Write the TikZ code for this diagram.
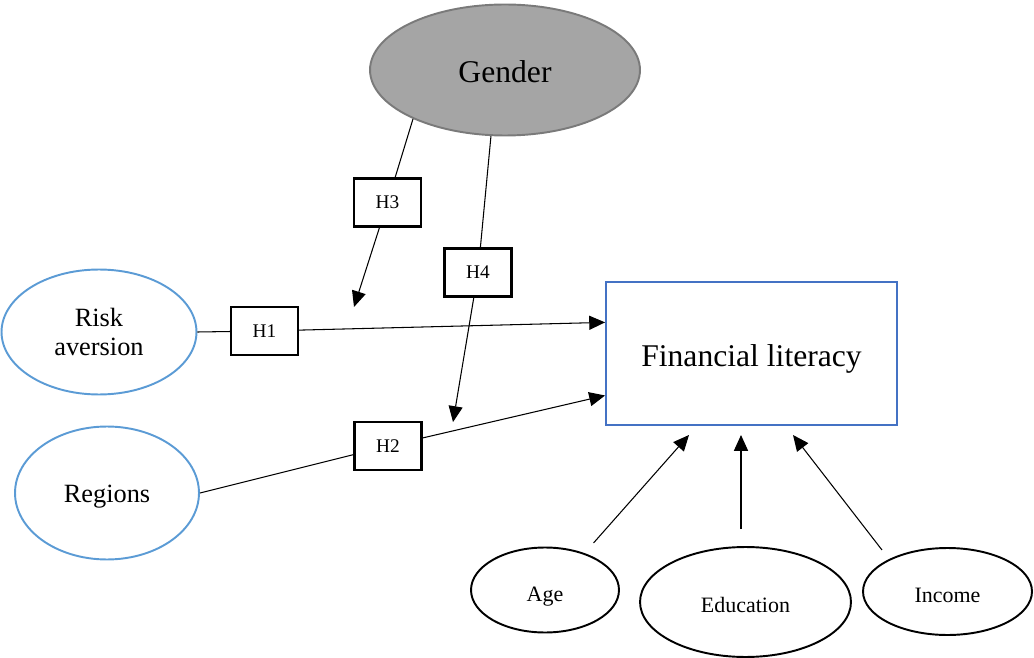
\documentclass[tikz,border=0pt]{standalone}
\usepackage{fontspec}
\setmainfont{Liberation Serif}
\usetikzlibrary{shapes.geometric,arrows.meta}
\tikzset {>={Triangle[length=9pt,width=8pt]}}
\definecolor{ovalblue}{HTML}{5B9BD5}
\definecolor{boxblue}{HTML}{4472C4}
\definecolor{gendergray}{HTML}{A5A5A5}
\definecolor{genderline}{HTML}{7A7A7A}
\newcommand{\lowtext}[2]{\raisebox{-#1}[\height][\depth]{#2}}
\tikzset{
  oval/.style={ellipse,draw,line width=1.1pt,inner sep=0pt},
  hyp/.style={rectangle,draw,line width=1.3pt,minimum width=1.34cm,minimum height=0.96cm,font=\fontsize{11}{13}\selectfont},
  link/.style={line width=0.6pt}
}

\begin{document}
\begin{tikzpicture}[x=0.02cm,y=-0.02cm]
\useasboundingbox (0,0) rectangle (1034,658);
\node[oval,fill=gendergray,draw=genderline,minimum width=5.4cm,minimum height=2.62cm,font=\fontsize{18}{21}\selectfont] (gender) at (505,70) {\lowtext{1pt}{Gender}};
\node[oval,draw=ovalblue,minimum width=3.9cm,minimum height=2.5cm,align=center,font=\fontsize{15}{17}\selectfont] (risk) at (99,332) {Risk\\aversion};
\node[oval,draw=ovalblue,minimum width=3.68cm,minimum height=2.66cm,font=\fontsize{15}{17}\selectfont] (regions) at (107,493) {\lowtext{2pt}{Regions}};
\node[rectangle,draw=boxblue,line width=1.1pt,minimum width=5.82cm,minimum height=2.86cm,font=\fontsize{18}{21}\selectfont] (fin) at (751.5,353.5) {\lowtext{3pt}{Financial literacy}};
\node[oval,minimum width=2.96cm,minimum height=1.7cm,font=\fontsize{12.5}{15}\selectfont] (age) at (545,590) {\lowtext{3.5pt}{Age}};
\node[oval,minimum width=4.22cm,minimum height=2.2cm,font=\fontsize{12.5}{15}\selectfont] (edu) at (745.5,602) {\lowtext{1.5pt}{Education}};
\node[oval,minimum width=3.38cm,minimum height=1.74cm,font=\fontsize{12.5}{15}\selectfont] (income) at (947.5,591.5) {\lowtext{2pt}{Income}};
\node[hyp] (H1) at (264.5,331) {H1};
\node[hyp] (H2) at (388,446) {H2};
\node[hyp] (H3) at (387.5,202.5) {H3};
\node[hyp] (H4) at (478,272.5) {H4};
\coordinate (h3tip) at (354,307);
\coordinate (h4tip) at (453,422);
\coordinate (agetip) at (689,435);
\coordinate (edutip) at (741,435);
\coordinate (inctip) at (793,435);
% main paths
\draw[link] (risk.east) -- (H1);
\draw[link,->] (H1) -- (fin.168);
\draw[link] (regions.east) -- (H2);
\draw[link,->] (H2) -- (fin.196);
% moderation by gender
\draw[link] (gender.208) -- (H3);
\draw[link,->] (H3) -- (h3tip);
\draw[link] (gender.258) -- (H4);
\draw[link,->] (H4) -- (h4tip);
% controls
\draw[link,->,shorten <=0.27cm] (age.43) -- (agetip);
\draw[link,->,shorten <=0.34cm] (edutip |- edu.north) -- (edutip);
\draw[link,->,shorten <=0.23cm] (income.151) -- (inctip);
\end{tikzpicture}
\end{document}
